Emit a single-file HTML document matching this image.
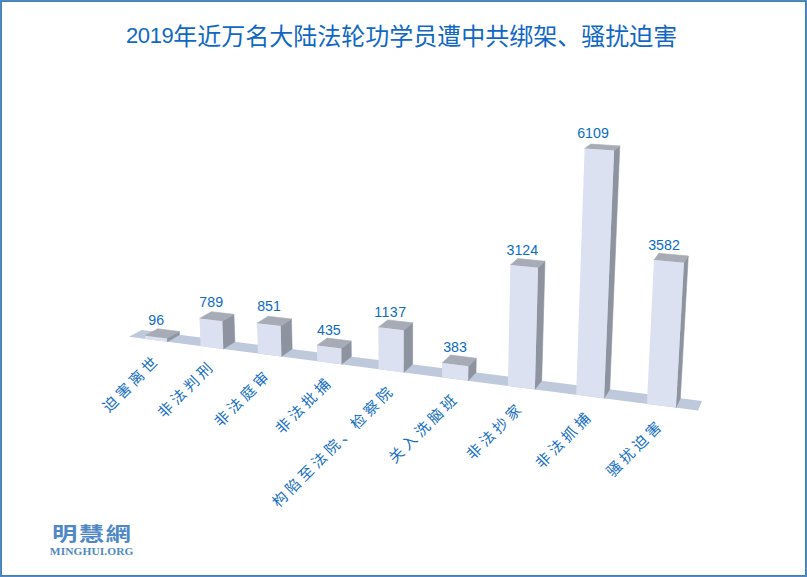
<!DOCTYPE html>
<html><head><meta charset="utf-8"><style>
html,body{margin:0;padding:0;background:#fff;}
#wrap{position:relative;width:807px;height:577px;overflow:hidden;background:#fff;}
#frame{position:absolute;left:0;top:0;width:805px;height:575px;border:1px solid #5189c0;}
#frame2{position:absolute;left:1px;top:1px;width:803px;height:573px;border:1px solid #4280bb;}
#title{position:absolute;left:126px;top:21.8px;font-family:"Liberation Sans","Noto Sans CJK SC",sans-serif;font-size:24px;color:#1068c4;white-space:nowrap;line-height:30px;}
#title span{font-size:22px;letter-spacing:-0.4px;position:relative;top:-1.4px;}
svg{position:absolute;left:0;top:0;}
.v{font-family:"Liberation Sans",sans-serif;font-size:14.2px;fill:#0a6cc4;text-anchor:middle;}
.c{font-family:"Liberation Sans","Noto Sans CJK SC",sans-serif;font-size:14.8px;fill:#176fc4;text-anchor:end;letter-spacing:3.6px;}
#logo1{position:absolute;left:52px;top:520px;font-family:"Noto Sans CJK TC",sans-serif;font-weight:bold;font-size:19.5px;color:#5088c6;letter-spacing:1.1px;transform:scaleX(1.3);transform-origin:0 0;white-space:nowrap;line-height:26px;}
#logo2{position:absolute;left:49.8px;top:543.3px;font-family:"Liberation Serif",serif;font-weight:bold;font-size:11.4px;color:#5088c6;white-space:nowrap;letter-spacing:0.1px;line-height:16px;}
</style></head><body><div id="wrap">
<div id="frame"></div><div id="frame2"></div>
<div id="title"><span>2019</span>年近万名大陆法轮功学员遭中共绑架、骚扰迫害</div>
<svg width="807" height="577" viewBox="0 0 807 577">
<polygon points="128.91,336.86 698.08,410.47 702.02,400.98 141.69,329.94" fill="#bfc9dc"/>
<polygon points="167.15,341.80 179.44,334.73 179.29,331.46 166.99,338.48" fill="#8d939f" stroke="#8d939f" stroke-width="0.6" stroke-linejoin="round"/>
<polygon points="145.02,335.66 166.99,338.48 179.29,331.46 157.60,328.73" fill="#a6abb6" stroke="#a6abb6" stroke-width="0.6" stroke-linejoin="round"/>
<polygon points="145.19,338.96 167.15,341.80 166.99,338.48 145.02,335.66" fill="#dbe1f1"/>
<polygon points="223.32,349.07 234.86,341.75 233.91,314.34 222.30,321.22" fill="#8d939f" stroke="#8d939f" stroke-width="0.6" stroke-linejoin="round"/>
<polygon points="199.48,318.45 222.30,321.22 233.91,314.34 211.41,311.66" fill="#a6abb6" stroke="#a6abb6" stroke-width="0.6" stroke-linejoin="round"/>
<polygon points="200.63,346.13 223.32,349.07 222.30,321.22 199.48,318.45" fill="#dbe1f1"/>
<polygon points="281.41,356.58 292.13,349.01 291.44,318.98 280.64,326.06" fill="#8d939f" stroke="#8d939f" stroke-width="0.6" stroke-linejoin="round"/>
<polygon points="257.03,323.21 280.64,326.06 291.44,318.98 268.17,316.23" fill="#a6abb6" stroke="#a6abb6" stroke-width="0.6" stroke-linejoin="round"/>
<polygon points="257.94,353.55 281.41,356.58 280.64,326.06 257.03,323.21" fill="#dbe1f1"/>
<polygon points="341.50,364.35 351.35,356.52 351.17,340.97 341.29,348.55" fill="#8d939f" stroke="#8d939f" stroke-width="0.6" stroke-linejoin="round"/>
<polygon points="316.93,345.51 341.29,348.55 351.17,340.97 327.17,338.04" fill="#a6abb6" stroke="#a6abb6" stroke-width="0.6" stroke-linejoin="round"/>
<polygon points="317.21,361.21 341.50,364.35 341.29,348.55 316.93,345.51" fill="#dbe1f1"/>
<polygon points="403.69,372.40 412.60,364.29 412.65,322.80 403.67,330.22" fill="#8d939f" stroke="#8d939f" stroke-width="0.6" stroke-linejoin="round"/>
<polygon points="378.32,327.24 403.67,330.22 412.65,322.80 387.69,319.92" fill="#a6abb6" stroke="#a6abb6" stroke-width="0.6" stroke-linejoin="round"/>
<polygon points="378.55,369.15 403.69,372.40 403.67,330.22 378.32,327.24" fill="#dbe1f1"/>
<polygon points="468.12,380.73 476.01,372.32 476.21,358.21 468.30,366.37" fill="#8d939f" stroke="#8d939f" stroke-width="0.6" stroke-linejoin="round"/>
<polygon points="442.18,363.10 468.30,366.37 476.21,358.21 450.51,355.05" fill="#a6abb6" stroke="#a6abb6" stroke-width="0.6" stroke-linejoin="round"/>
<polygon points="442.07,377.36 468.12,380.73 468.30,366.37 442.18,363.10" fill="#dbe1f1"/>
<polygon points="534.89,389.37 541.68,380.65 544.96,261.13 538.06,267.75" fill="#8d939f" stroke="#8d939f" stroke-width="0.6" stroke-linejoin="round"/>
<polygon points="510.37,265.08 538.06,267.75 544.96,261.13 517.74,258.56" fill="#a6abb6" stroke="#a6abb6" stroke-width="0.6" stroke-linejoin="round"/>
<polygon points="507.89,385.87 534.89,389.37 538.06,267.75 510.37,265.08" fill="#dbe1f1"/>
<polygon points="604.13,398.32 609.75,389.28 619.78,145.89 614.09,150.47" fill="#8d939f" stroke="#8d939f" stroke-width="0.6" stroke-linejoin="round"/>
<polygon points="584.61,148.59 614.09,150.47 619.78,145.89 590.84,144.08" fill="#a6abb6" stroke="#a6abb6" stroke-width="0.6" stroke-linejoin="round"/>
<polygon points="576.13,394.70 604.13,398.32 614.09,150.47 584.61,148.59" fill="#dbe1f1"/>
<polygon points="675.99,407.62 680.33,398.23 688.25,255.97 683.94,262.76" fill="#8d939f" stroke="#8d939f" stroke-width="0.6" stroke-linejoin="round"/>
<polygon points="653.96,260.01 683.94,262.76 688.25,255.97 658.83,253.32" fill="#a6abb6" stroke="#a6abb6" stroke-width="0.6" stroke-linejoin="round"/>
<polygon points="646.93,403.86 675.99,407.62 683.94,262.76 653.96,260.01" fill="#dbe1f1"/>
<text x="156.2" y="324.7" class="v">96</text>
<text x="211.2" y="307.4" class="v">789</text>
<text x="269.0" y="311.4" class="v">851</text>
<text x="328.9" y="334.9" class="v">435</text>
<text x="390.4" y="316.7" class="v" style="letter-spacing:0.5px">1137</text>
<text x="455.0" y="351.9" class="v">383</text>
<text x="522.3" y="255.1" class="v">3124</text>
<text x="593.0" y="137.9" class="v">6109</text>
<text x="664.0" y="250.2" class="v">3582</text>
<text x="161.1" y="360.9" class="c" transform="rotate(-45 161.1 360.9)">迫害离世</text>
<text x="216.1" y="366.7" class="c" transform="rotate(-45 216.1 366.7)">非法判刑</text>
<text x="272.5" y="375.7" class="c" transform="rotate(-45 272.5 375.7)">非法庭审</text>
<text x="333.7" y="382.8" class="c" transform="rotate(-45 333.7 382.8)">非法批捕</text>
<text x="395.7" y="391.1" class="c" transform="rotate(-45 395.7 391.1)">构陷至法院、检察院</text>
<text x="460.0" y="398.9" class="c" transform="rotate(-45 460.0 398.9)">关入洗脑班</text>
<text x="524.9" y="408.4" class="c" transform="rotate(-45 524.9 408.4)">非法抄家</text>
<text x="593.7" y="417.1" class="c" transform="rotate(-45 593.7 417.1)">非法抓捕</text>
<text x="664.9" y="425.7" class="c" transform="rotate(-45 664.9 425.7)">骚扰迫害</text>
</svg>
<div id="logo1">明慧網</div>
<div id="logo2">MINGHUI.ORG</div>
</div></body></html>
